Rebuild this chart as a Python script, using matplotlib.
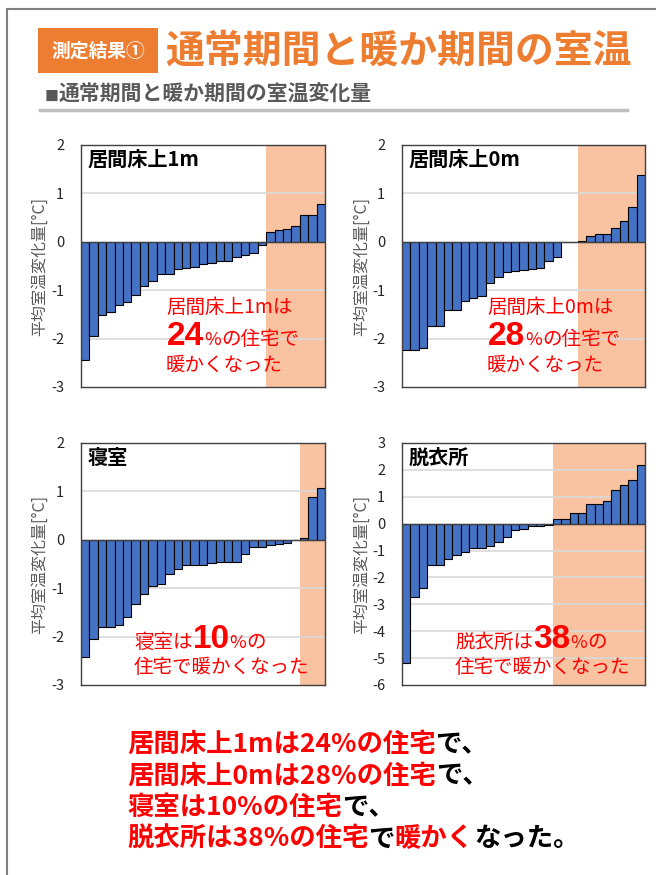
import numpy as np
import matplotlib
matplotlib.use('Agg')
import matplotlib.pyplot as plt
from matplotlib.transforms import Affine2D
from matplotlib.patches import Rectangle
from matplotlib.lines import Line2D

plt.rcParams['font.family'] = ['Noto Sans CJK JP', 'DejaVu Sans']
plt.rcParams['axes.unicode_minus'] = False

W, H = 656, 875

# average room temperature change per house (warm period - normal period), sorted
living_1m = [-2.45, -1.95, -1.52, -1.45, -1.30, -1.24, -1.09, -0.91, -0.81, -0.66,
             -0.66, -0.57, -0.55, -0.52, -0.46, -0.43, -0.39, -0.39, -0.31, -0.28,
             -0.23, -0.07, 0.21, 0.24, 0.26, 0.32, 0.55, 0.55, 0.79]
living_0m = [-2.24, -2.24, -2.19, -1.74, -1.74, -1.40, -1.40, -1.22, -1.17, -1.12,
             -0.85, -0.72, -0.63, -0.61, -0.59, -0.57, -0.54, -0.39, -0.32, -0.01,
             -0.01, 0.01, 0.13, 0.16, 0.16, 0.28, 0.43, 0.72, 1.38]
bedroom = [-2.43, -2.05, -1.80, -1.80, -1.75, -1.59, -1.33, -1.11, -0.95, -0.92,
           -0.70, -0.61, -0.53, -0.53, -0.53, -0.48, -0.45, -0.45, -0.45, -0.30,
           -0.14, -0.14, -0.10, -0.08, -0.07, -0.01, 0.03, 0.88, 1.06]
dressing = [-5.20, -2.73, -2.38, -1.55, -1.55, -1.30, -1.16, -1.04, -0.90, -0.90,
            -0.84, -0.67, -0.50, -0.25, -0.18, -0.10, -0.08, -0.04, 0.17, 0.17,
            0.40, 0.40, 0.74, 0.74, 0.83, 1.24, 1.45, 1.62, 2.17]

series = [living_1m, living_0m, bedroom, dressing]
names = ['居間床上1m', '居間床上0m', '寝室', '脱衣所']
ylims = [(-3, 2), (-3, 2), (-3, 2), (-6, 3)]

ORANGE = '#ED7D31'
SHADE = '#F9C2A0'
BAR = '#4472C4'
RED = '#FF0000'

fig = plt.figure(figsize=(W / 100, H / 100), dpi=100)
fig.patch.set_facecolor('white')
renderer = fig.canvas.get_renderer()
# pixel coords measured from the top-left corner
px = Affine2D().scale(1, -1).translate(0, H)


def put(x, y, parts):
    # draw text pieces one after another on the same baseline
    for s, props in parts:
        t = fig.text(x, y, s, transform=px, ha='left', va='baseline', **props)
        x += t.get_window_extent(renderer).width
    return x


def add_ax(x0, y0, x1, y1):
    return fig.add_axes([x0 / W, 1 - y1 / H, (x1 - x0) / W, (y1 - y0) / H])


# page frame
fig.add_artist(Line2D([7, 656], [9, 9], transform=px, color='#808080', lw=1.5))
fig.add_artist(Line2D([7, 7], [9, 875], transform=px, color='#808080', lw=1.5))

# header
fig.add_artist(Rectangle((38, 28), 120, 45, transform=px, facecolor=ORANGE, edgecolor='none'))
fig.text(98, 51, '測定結果①', transform=px, ha='center', va='center',
         color='white', fontsize=13.5, weight='bold')
fig.text(165, 63, '通常期間と暖か期間の室温', transform=px, ha='left', va='baseline',
         color=ORANGE, fontsize=28, weight='bold')
put(45, 101, [('■', dict(color='#595959', fontsize=10)),
              ('通常期間と暖か期間の室温変化量', dict(color='#595959', fontsize=15, weight='bold'))])
fig.add_artist(Line2D([40, 627], [110, 110], transform=px, color='#BFBFBF', lw=2.5))

boxes = [(81, 145, 325, 387), (402, 145, 645, 387),
         (81, 443, 325, 685), (402, 443, 645, 685)]

red = dict(color=RED, fontsize=14)
big = dict(color=RED, fontsize=24, weight='bold', family='Liberation Sans')
pct_st = dict(color=RED, fontsize=13)

pcts = []
for i, (vals, name, (lo, hi), box) in enumerate(zip(series, names, ylims, boxes)):
    vals = np.array(vals)
    n = len(vals)
    x = np.arange(n)
    ax = add_ax(*box)
    # shade the houses that got warmer
    start = int(np.argmax(vals > 0))
    ax.axvspan(start - 0.5, n - 0.5, color=SHADE, lw=0, zorder=0)
    for yv in range(lo + 1, hi):
        if yv != 0:
            ax.axhline(yv, color='#D9D9D9', lw=1.2, zorder=1)
    ax.bar(x, vals, width=1.0, color=BAR, edgecolor='black', linewidth=0.8, zorder=2)
    ax.axhline(0, color='#404040', lw=1, zorder=3)
    ax.set_xlim(-0.5, n - 0.5)
    ax.set_ylim(lo, hi)
    ax.set_yticks(range(lo, hi + 1))
    ax.set_xticks([])
    ax.tick_params(axis='y', length=0, pad=12, labelsize=10.5, labelcolor='#262626')
    for sp in ax.spines.values():
        sp.set_color('#404040')
        sp.set_linewidth(1)

    x0, y0, x1, y1 = box
    fig.text(x0 - 41, (y0 + y1) / 2, '平均室温変化量[°C]', transform=px, rotation=90,
             ha='center', va='center', fontsize=11.5, color='#595959')
    put(x0 + 7, y0 + 21, [(name, dict(color='black', fontsize=14.5, weight='bold'))])

    pct = int(round(100 * np.sum(vals > 0) / n))
    pcts.append(pct)
    if i < 2:
        put(x0 + 85, 313, [(f'{name}は', red)])
        put(x0 + 86, 345, [(f'{pct}', big), ('%', pct_st), ('の住宅で', red)])
        put(x0 + 85, 371, [('暖かくなった', red)])
    else:
        put(x0 + 53, 648, [(f'{name}は', red), (f'{pct}', big), ('%', pct_st), ('の', red)])
        put(x0 + 53, 673, [('住宅で暖かくなった', red)])

# summary lines
rb = dict(color=RED, fontsize=19, weight='bold')
kb = dict(color='black', fontsize=19, weight='bold')
for k in range(3):
    put(127, 752 + 31.5 * k, [(f'{names[k]}は{pcts[k]}%の住宅', rb), ('で、', kb)])
put(127, 752 + 31.5 * 3, [(f'{names[3]}は{pcts[3]}%の住宅', rb), ('で', kb),
                          ('暖かく', rb), ('なった。', kb)])

fig.savefig('out.png', dpi=100, facecolor='white')
